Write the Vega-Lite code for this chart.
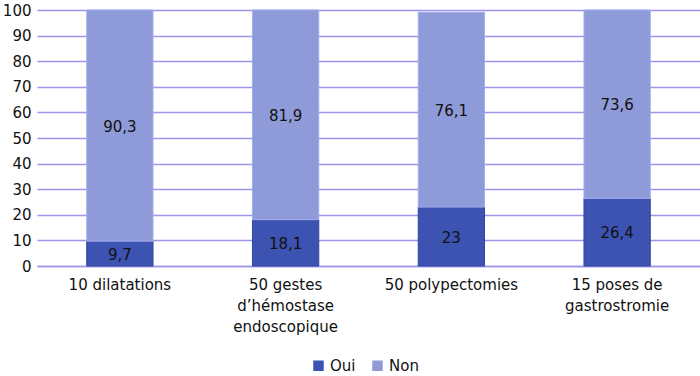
{
  "$schema": "https://vega.github.io/schema/vega-lite/v6.json",
  "width": 663,
  "height": 256,
  "autosize": {"type": "none"},
  "padding": {"left": 37, "top": 10, "right": 0, "bottom": 110},
  "background": "white",
  "config": {
    "view": {"stroke": null},
    "font": "DejaVu Sans",
    "locale": {"number": {"decimal": ",", "thousands": " ", "grouping": [3], "currency": ["", " €"]}}
  },
  "data": {
    "values": [
      {"cat": "10 dilatations", "rep": "Oui", "ord": 0, "val": 9.7},
      {"cat": "10 dilatations", "rep": "Non", "ord": 1, "val": 90.3},
      {"cat": "50 gestes|d’hémostase|endoscopique", "rep": "Oui", "ord": 0, "val": 18.1},
      {"cat": "50 gestes|d’hémostase|endoscopique", "rep": "Non", "ord": 1, "val": 81.9},
      {"cat": "50 polypectomies", "rep": "Oui", "ord": 0, "val": 23},
      {"cat": "50 polypectomies", "rep": "Non", "ord": 1, "val": 76.1},
      {"cat": "15 poses de|gastrostromie", "rep": "Oui", "ord": 0, "val": 26.4},
      {"cat": "15 poses de|gastrostromie", "rep": "Non", "ord": 1, "val": 73.6}
    ]
  },
  "encoding": {
    "x": {
      "field": "cat", "type": "nominal", "sort": null,
      "scale": {"paddingInner": 0.6, "paddingOuter": 0.3},
      "axis": {
        "title": null, "labelAngle": 0, "labelFontSize": 15, "labelColor": "#111",
        "labelExpr": "split(datum.label, '|')", "labelLineHeight": 21,
        "labelPadding": 11, "ticks": false, "domainColor": "#9d95ec", "domainWidth": 1.5
      }
    },
    "y": {
      "field": "val", "type": "quantitative", "stack": "zero",
      "scale": {"domain": [0, 100]},
      "axis": {
        "title": null, "values": [0,10,20,30,40,50,60,70,80,90,100], "labelOverlap": false,
        "labelFontSize": 15, "labelColor": "#111", "domain": false, "ticks": false,
        "labelPadding": 6, "gridColor": "#9d95ec", "gridWidth": 1.5, "gridOpacity": 1
      }
    },
    "order": {"field": "ord", "type": "quantitative"}
  },
  "layer": [
    {
      "mark": {"type": "bar", "strokeWidth": 1},
      "encoding": {
        "color": {
          "field": "rep", "type": "nominal",
          "scale": {"domain": ["Oui", "Non"], "range": ["#3c53b2", "#8f9ad8"]},
          "legend": {
            "title": null, "orient": "none", "direction": "horizontal",
            "legendX": 274, "legendY": 348, "symbolType": "square", "symbolSize": 110,
            "symbolStrokeWidth": 0, "labelFontSize": 15, "labelColor": "#111", "columnPadding": 14, "labelOffset": 4
          }
        },
        "stroke": {
          "field": "rep", "type": "nominal",
          "scale": {"domain": ["Oui", "Non"], "range": ["#34479e", "#a3aef0"]},
          "legend": null
        }
      }
    },
    {
      "mark": {"type": "text", "fontSize": 15, "color": "#111", "baseline": "middle", "dy": 1},
      "encoding": {
        "y": {"field": "val", "type": "quantitative", "stack": "zero", "bandPosition": 0.5},
        "text": {"field": "val", "type": "quantitative", "format": ".1~f"}
      }
    }
  ]
}
